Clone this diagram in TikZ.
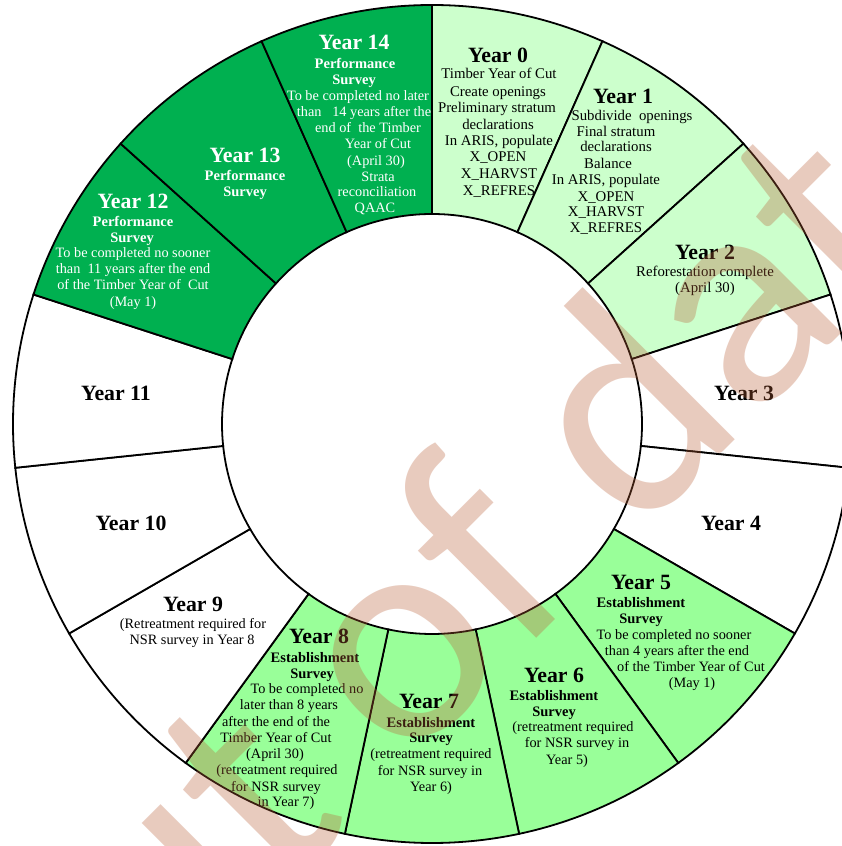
\documentclass[tikz,border=0pt]{standalone}
\usepackage{fontspec}
\setmainfont{Liberation Serif}
\newfontfamily\wmfont{Carlito}
\definecolor{pale}{RGB}{204,255,204}
\definecolor{mid}{RGB}{153,255,153}
\definecolor{dark}{RGB}{0,176,80}
\definecolor{wmcol}{RGB}{185,95,55}
\begin{document}
\begin{tikzpicture}[x=1pt,y=1pt,
  body/.style={anchor=base, yshift=-4pt, inner sep=0pt, font=\fontsize{14.3}{16}\selectfont},
  cam/.style={anchor=base, yshift=-4pt, inner sep=0pt, font=\fontsize{14.8}{16}\selectfont},
  sub/.style={anchor=base, yshift=-4.5pt, inner sep=0pt, font=\fontsize{14.5}{16}\selectfont\bfseries},
  ttl/.style={anchor=base, yshift=-7pt, inner sep=0pt, font=\fontsize{21.8}{23}\selectfont\bfseries},
  wt/.style={text=white},
  seg/.style={draw=black, line width=1.8pt},
  wmark/.style={text=wmcol, opacity=0.32, inner sep=0pt, font=\wmfont\fontsize{310}{310}\selectfont}]
\useasboundingbox (0,0) rectangle (842,846);
\fill[white] (0,0) rectangle (842,846);
\coordinate (C) at (432,422);
\foreach \k/\col in {0/pale,1/pale,2/pale,3/white,4/white,5/mid,6/mid,7/mid,8/mid,9/white,10/white,11/white,12/dark,13/dark,14/dark}{
  \pgfmathsetmacro\aa{90-24*\k}
  \pgfmathsetmacro\ab{66-24*\k}
  \filldraw[fill=\col, seg, shift={(C)}] (\aa:210) arc[start angle=\aa, end angle=\ab, radius=210] -- (\ab:419) arc[start angle=\ab, end angle=\aa, radius=419] -- cycle;
}
% Year 0
\node[ttl] (y0t) at (498,{846-56}) {Year 0};
\node[cam] (y0a) at (499,{846-75}) {Timber Year of Cut};
\node[cam] (y0b) at (498,{846-93}) {Create openings};
\node[cam] (y0c) at (497,{846-109}) {Preliminary stratum};
\node[cam] (y0d) at (498,{846-126}) {declarations};
\node[cam] (y0e) at (499,{846-142}) {In ARIS, populate};
\node[cam] (y0f) at (498,{846-158}) {X\_OPEN};
\node[cam] (y0g) at (499,{846-175}) {X\_HARVST};
\node[cam] (y0h) at (499,{846-192}) {X\_REFRES};
% Year 1
\node[ttl] (y1t) at (623,{846-97}) {Year 1};
\node[cam] (y1a) at (632,{846-117}) {Subdivide\ \ openings};
\node[cam] (y1b) at (616,{846-133}) {Final stratum};
\node[cam] (y1c) at (616,{846-148}) {declarations};
\node[cam] (y1d) at (608,{846-165}) {Balance};
\node[cam] (y1e) at (606,{846-181}) {In ARIS, populate};
\node[cam] (y1f) at (606,{846-198}) {X\_OPEN};
\node[cam] (y1g) at (606,{846-213}) {X\_HARVST};
\node[cam] (y1h) at (606,{846-229}) {X\_REFRES};
% Year 2
\node[ttl] (y2t) at (705,{846-253}) {Year 2};
\node[cam] (y2a) at (705,{846-273}) {Reforestation complete};
\node[cam] (y2b) at (705,{846-289}) {(April 30)};
% Year 3, 4
\node[ttl] (y3t) at (744,{846-394}) {Year 3};
\node[ttl] (y4t) at (731,{846-524}) {Year 4};
% Year 5
\node[ttl] (y5t) at (641,{846-583}) {Year 5};
\node[sub] (y5a) at (641,{846-603}) {Establishment};
\node[sub] (y5b) at (641,{846-619}) {Survey};
\node[body] (y5c) at (674,{846-636}) {To be completed no sooner};
\node[body] (y5d) at (677,{846-652}) {than 4 years after the end};
\node[body] (y5e) at (691,{846-668}) {of the Timber Year of Cut};
\node[body] (y5f) at (692,{846-684}) {(May 1)};
% Year 6
\node[ttl] (y6t) at (554,{846-676}) {Year 6};
\node[sub] (y6a) at (554,{846-696}) {Establishment};
\node[sub] (y6b) at (554,{846-712}) {Survey};
\node[body] (y6c) at (573,{846-728}) {(retreatment required};
\node[body] (y6d) at (577,{846-744}) {for NSR survey in};
\node[body] (y6e) at (567,{846-761}) {Year 5)};
% Year 7
\node[ttl] (y7t) at (429,{846-702}) {Year 7};
\node[sub] (y7a) at (431,{846-723}) {Establishment};
\node[sub] (y7b) at (431,{846-738}) {Survey};
\node[body] (y7c) at (431,{846-755}) {(retreatment required};
\node[body] (y7d) at (430,{846-772}) {for NSR survey in};
\node[body] (y7e) at (431,{846-788}) {Year 6)};
% Year 8
\node[ttl] (y8t) at (319,{846-637}) {Year 8};
\node[sub] (y8a) at (315,{846-658}) {Establishment};
\node[sub] (y8b) at (312,{846-674}) {Survey};
\node[body] (y8c) at (307,{846-690}) {To be completed no};
\node[body] (y8d) at (289,{846-706}) {later than 8 years};
\node[body] (y8e) at (276,{846-723}) {after the end of the};
\node[body] (y8f) at (276,{846-739}) {Timber Year of Cut};
\node[body] (y8g) at (275,{846-755}) {(April 30)};
\node[body] (y8h) at (277,{846-771}) {(retreatment required};
\node[body] (y8i) at (276,{846-788}) {for NSR survey};
\node[body] (y8j) at (286,{846-803}) {in Year 7)};
% Year 9
\node[ttl] (y9t) at (193,{846-605}) {Year 9};
\node[body] (y9a) at (193,{846-625}) {(Retreatment required for};
\node[body] (y9b) at (192,{846-641}) {NSR survey in Year 8};
% Year 10, 11
\node[ttl] (y10t) at (131,{846-524}) {Year 10};
\node[ttl] (y11t) at (116,{846-394}) {Year 11};
% Year 12
\node[ttl,wt] (y12t) at (133,{846-202}) {Year 12};
\node[sub,wt] (y12a) at (133,{846-222}) {Performance};
\node[sub,wt] (y12b) at (132,{846-238}) {Survey};
\node[body,wt] (y12c) at (133,{846-254}) {To be completed no sooner};
\node[body,wt] (y12d) at (133,{846-270}) {than\ \ 11 years after the end};
\node[body,wt] (y12e) at (133,{846-286}) {of the Timber Year of\ \ Cut};
\node[body,wt] (y12f) at (133,{846-303}) {(May 1)};
% Year 13
\node[ttl,wt] (y13t) at (245,{846-156}) {Year 13};
\node[sub,wt] (y13a) at (245,{846-176}) {Performance};
\node[sub,wt] (y13b) at (245,{846-192}) {Survey};
% Year 14
\node[ttl,wt] (y14t) at (354,{846-43}) {Year 14};
\node[sub,wt] (y14a) at (355,{846-64}) {Performance};
\node[sub,wt] (y14b) at (354,{846-80}) {Survey};
\node[body,wt] (y14c) at (358,{846-97}) {To be completed no later};
\node[body,wt] (y14d) at (364,{846-113}) {than\ \ \ 14 years after the};
\node[body,wt] (y14e) at (368,{846-129}) {end of\ \ the Timber};
\node[body,wt] (y14f) at (378,{846-145}) {Year of Cut};
\node[body,wt] (y14g) at (376,{846-162}) {(April 30)};
\node[body,wt] (y14h) at (378,{846-178}) {Strata};
\node[body,wt] (y14i) at (377,{846-193}) {reconciliation};
\node[body,wt] (y14j) at (375,{846-209}) {QAAC};
% watermark
\node[wmark, rotate=45, anchor=base west] (wm) at (20,{846-1155}) {Out of date};
\end{tikzpicture}
\end{document}
